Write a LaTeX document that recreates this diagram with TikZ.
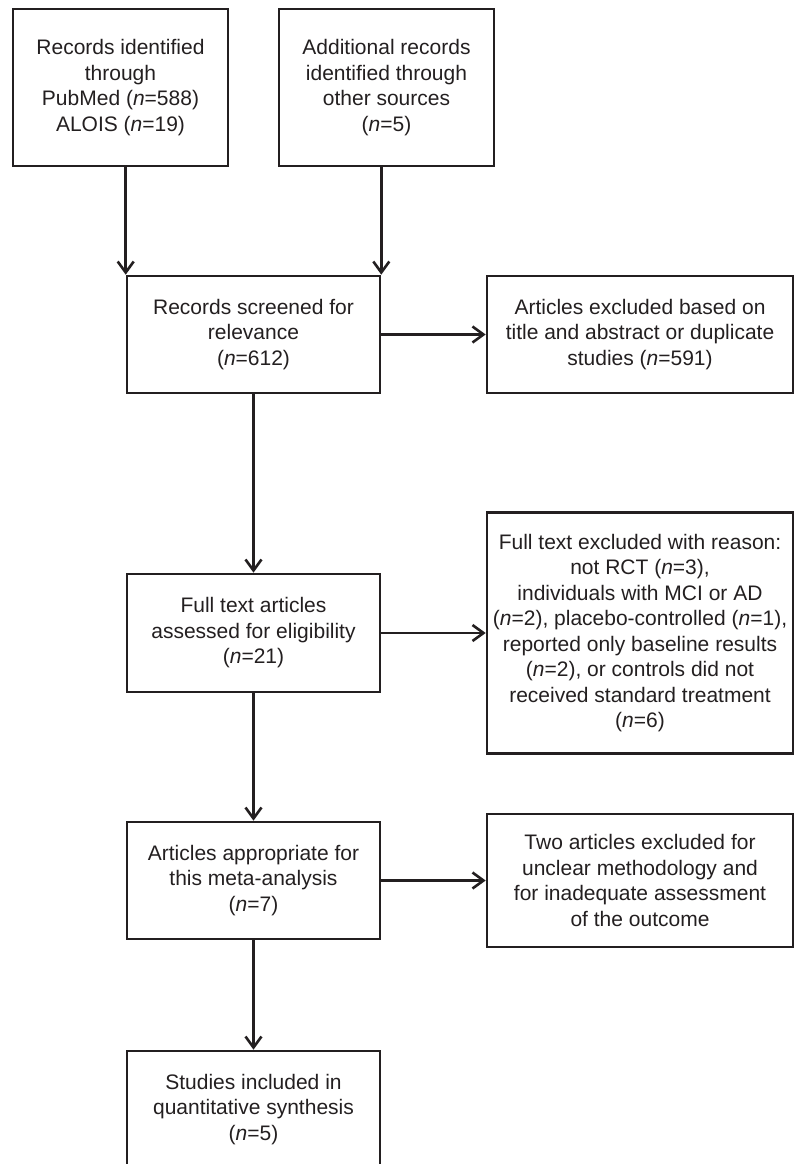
\documentclass[tikz,border=0pt]{standalone}
\usepackage{fontspec}
\setmainfont{Liberation Sans}
\usepackage{xcolor}
\usetikzlibrary{arrows.meta}
\definecolor{ink}{HTML}{231F20}

\tikzset{
  box/.style={draw=ink, line width=2.6pt, rectangle, align=center, text=ink,
    inner sep=0pt, font=\fontsize{21}{25.5}\selectfont},
  flow/.style={draw=ink, line width=2.6pt, -{Straight Barb[length=11pt,width=16pt]}}
}

\begin{document}
\begin{tikzpicture}[x=1pt, y=-1pt]
  \useasboundingbox (0,0) rectangle (795,1164);

  \node[box, minimum width=215pt, minimum height=157pt] (records) at (120.5,87.5)
    {Records identified\\through\\PubMed (\textit{n}=588)\\ALOIS (\textit{n}=19)};
  \node[box, minimum width=215pt, minimum height=157pt] (additional) at (386.5,87.5)
    {Additional records\\identified through\\other sources\\(\textit{n}=5)};
  \node[box, minimum width=253pt, minimum height=117pt] (screened) at (253.5,334.5)
    {Records screened for\\relevance\\(\textit{n}=612)};
  \node[box, minimum width=306pt, minimum height=117pt] (excluded) at (640,334.5)
    {Articles excluded based on\\title and abstract or duplicate\\studies (\textit{n}=591)};
  \node[box, minimum width=253pt, minimum height=118pt] (fulltext) at (253.5,633)
    {Full text articles\\assessed for eligibility\\(\textit{n}=21)};
  \node[box, minimum width=306pt, minimum height=241pt] (reasons) at (640,633)
    {Full text excluded with reason:\\not RCT (\textit{n}=3),\\individuals with MCI or AD\\(\textit{n}=2), placebo-controlled (\textit{n}=1),\\reported only baseline results\\(\textit{n}=2), or controls did not\\received standard treatment\\(\textit{n}=6)};
  \node[box, minimum width=253pt, minimum height=117pt] (appropriate) at (253.5,880.5)
    {Articles appropriate for\\this meta-analysis\\(\textit{n}=7)};
  \node[box, minimum width=306pt, minimum height=133pt] (twoexcl) at (640,880.5)
    {Two articles excluded for\\unclear methodology and\\for inadequate assessment\\of the outcome};
  \node[box, minimum width=253pt, minimum height=117pt] (included) at (253.5,1109.5)
    {Studies included in\\quantitative synthesis\\(\textit{n}=5)};

  \draw[flow] (records.south -| screened.north west) -- (screened.north west);
  \draw[flow] (additional.south -| screened.north east) -- (screened.north east);
  \draw[flow] (screened) -- (excluded);
  \draw[flow] (screened) -- (fulltext);
  \draw[flow] (fulltext) -- (reasons);
  \draw[flow] (fulltext) -- (appropriate);
  \draw[flow] (appropriate) -- (twoexcl);
  \draw[flow] (appropriate) -- (included);
\end{tikzpicture}
\end{document}
